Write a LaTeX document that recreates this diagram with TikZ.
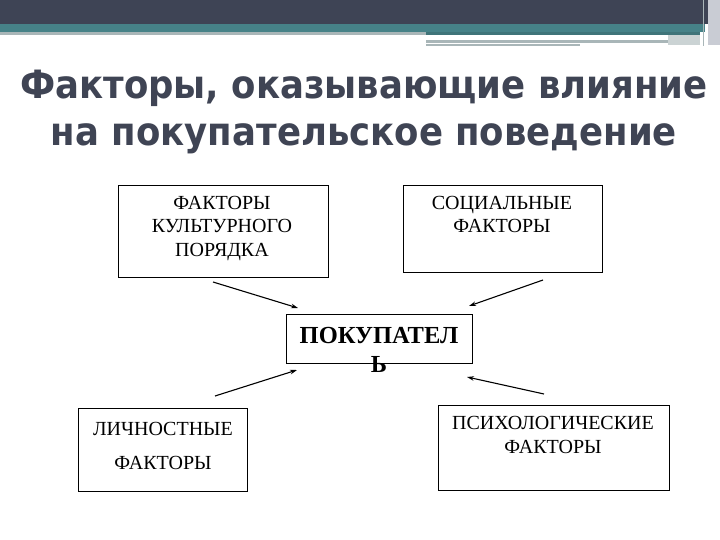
\documentclass[tikz,border=0pt]{standalone}
\usepackage{fontspec}
\usepackage{graphicx}
\setmainfont{Liberation Serif}
\newfontfamily\titlefont{DejaVu Sans}
\usetikzlibrary{arrows.meta}
\definecolor{hdrdark}{HTML}{3E4455}
\definecolor{hdrteal}{HTML}{468288}
\definecolor{hdrteal2}{HTML}{3F7479}
\definecolor{hdrgray}{HTML}{A9B6B8}
\definecolor{hdrlight}{HTML}{C9CCD4}
\definecolor{titlegray}{HTML}{3F4454}
\begin{document}
\begin{tikzpicture}[x=1pt,y=-1pt,
  box/.style={draw,line width=1pt,inner sep=0pt,anchor=north west},
  lbl/.style={anchor=base,inner sep=0pt,font=\fontsize{20}{22}\selectfont},
  ttl/.style={anchor=base,inner sep=0pt,text=titlegray,font=\titlefont\bfseries\fontsize{39}{46}\selectfont},
  arr/.style={line width=1.1pt,-{Stealth[length=7pt,width=4.5pt]}}]
\useasboundingbox (0,0) rectangle (720,540);
\fill[white] (0,0) rectangle (720,540);
% header
\fill[hdrdark] (0,0) rectangle (720,24);
\fill[hdrteal] (0,24) rectangle (705,32);
\fill[hdrgray] (0,32) rectangle (426,35);
\fill[hdrteal2] (426,32) rectangle (700,35);
\fill[hdrgray!60] (668,35) rectangle (700,45);
\fill[hdrgray] (426,40) rectangle (668,43);
\fill[hdrgray] (426,44) rectangle (580,46);
\fill[hdrlight] (708,0) rectangle (720,45);
\draw[hdrgray,line width=1pt] (703,0) -- (703,46);
% title
\node[ttl] (t1) at (364,99) {\scalebox{0.91}[1]{Факторы, оказывающие влияние}};
\node[ttl] (t2) at (364,146) {\scalebox{0.91}[1]{на покупательское поведение}};
% boxes
\node[box,minimum width=210pt,minimum height=92pt] (cult) at (118,185) {};
\node[box,minimum width=199pt,minimum height=87pt] (soc) at (403,185) {};
\node[box,minimum width=186pt,minimum height=49pt] (buy) at (286,314) {};
\node[box,minimum width=169pt,minimum height=83pt] (pers) at (78,408) {};
\node[box,minimum width=231pt,minimum height=85pt] (psy) at (438,405) {};
% labels
\node[lbl] (c1) at (222,210) {ФАКТОРЫ};
\node[lbl] (c2) at (222,233) {КУЛЬТУРНОГО};
\node[lbl] (c3) at (222,256) {ПОРЯДКА};
\node[lbl] (s1) at (502,210) {СОЦИАЛЬНЫЕ};
\node[lbl] (s2) at (502,233) {ФАКТОРЫ};
\node[lbl,font=\bfseries\fontsize{24.5}{26}\selectfont] (b1) at (379,343) {ПОКУПАТЕЛ};
\node[lbl,font=\bfseries\fontsize{24.5}{26}\selectfont] (b2) at (379,372) {Ь};
\node[lbl] (p1) at (163,435) {ЛИЧНОСТНЫЕ};
\node[lbl] (p2) at (163,469) {ФАКТОРЫ};
\node[lbl] (q1) at (553,429) {ПСИХОЛОГИЧЕСКИЕ};
\node[lbl] (q2) at (553,453) {ФАКТОРЫ};
% arrows
\coordinate (a1s) at (213,282); \coordinate (a1e) at (298,308);
\coordinate (a2s) at (543,280); \coordinate (a2e) at (469,306);
\coordinate (a3s) at (215,396); \coordinate (a3e) at (297,370);
\coordinate (a4s) at (544,394); \coordinate (a4e) at (467,377);
\draw[arr] (a1s) -- (a1e);
\draw[arr] (a2s) -- (a2e);
\draw[arr] (a3s) -- (a3e);
\draw[arr] (a4s) -- (a4e);
\end{tikzpicture}
\end{document}
